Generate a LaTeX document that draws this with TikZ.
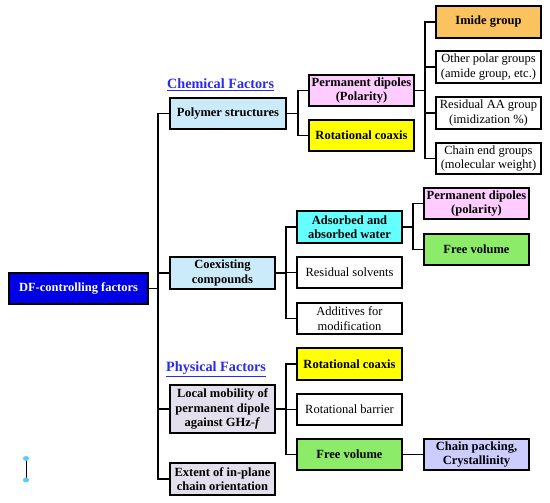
\documentclass[tikz,border=0pt]{standalone}
\usepackage{fontspec}
\setmainfont{Liberation Serif}
\begin{document}
\definecolor{cBlue}{HTML}{0000E6}
\definecolor{cLabel}{HTML}{2A2AEE}
\definecolor{cLightBlue}{HTML}{CCEBFA}
\definecolor{cGrayLav}{HTML}{E4DFEC}
\definecolor{cPink}{HTML}{FFCCFF}
\definecolor{cYellow}{HTML}{FFFF00}
\definecolor{cOrange}{HTML}{FAC35F}
\definecolor{cCyan}{HTML}{66FFFF}
\definecolor{cGreen}{HTML}{8CEB68}
\definecolor{cLav}{HTML}{CCCCFF}
\definecolor{cHandle}{HTML}{55CCFF}
\begin{tikzpicture}[x=1pt,y=-1pt,
  box/.style={draw=black, line width=1.7pt, rectangle, inner sep=0pt, align=center,
    font=\fontsize{12.5}{14.5}\selectfont\bfseries, minimum width=105pt, minimum height=31.5pt},
  plain/.style={box, fill=white, font=\fontsize{12.5}{14.5}\selectfont},
  link/.style={line width=1.7pt, draw=black},
  lab/.style={inner sep=0pt, text=cLabel, font=\fontsize{14.2}{16}\selectfont\bfseries}]
\useasboundingbox (0,0) rectangle (550,503);
% nodes
\node[box, fill=cBlue, text=white, minimum width=139.5pt] (df) at (78.5,288.5) {DF-controlling factors};
\node[box, fill=cLightBlue, minimum width=116.5pt] (poly) at (228,113.5) {Polymer structures};
\node[box, fill=cLightBlue] (coex) at (222.5,273) {Coexisting\\compounds};
\node[box, fill=cGrayLav, minimum height=48.5pt] (local) at (222.5,409) {Local mobility of\\permanent dipole\\against GHz-\textit{f}};
\node[box, fill=cGrayLav, minimum height=32.5pt] (extent) at (222.5,479) {Extent of in-plane\\chain orientation};
\node[box, fill=cPink] (pd1) at (361.5,90.5) {Permanent dipoles\\(Polarity)};
\node[box, fill=cYellow] (rc1) at (361.5,135.5) {Rotational coaxis};
\node[box, fill=cOrange] (imide) at (488.5,22) {Imide group};
\node[plain] (other) at (488.5,67) {Other polar groups\\(amide group, etc.)};
\node[plain] (resaa) at (488.5,113) {Residual AA group\\(imidization \%)};
\node[plain] (chainend) at (488.5,158.5) {Chain end groups\\(molecular weight)};
\node[box, fill=cCyan] (water) at (349.5,227) {Adsorbed and\\absorbed water};
\node[box, fill=cPink] (pd2) at (476.5,203.5) {Permanent dipoles\\(polarity)};
\node[box, fill=cGreen] (fv1) at (476.5,249.5) {Free volume};
\node[plain] (ressolv) at (349.5,272.5) {Residual solvents};
\node[plain] (additives) at (349.5,318.5) {Additives for\\modification};
\node[box, fill=cYellow] (rc2) at (349.5,364) {Rotational coaxis};
\node[plain] (rotbar) at (349.5,409.5) {Rotational barrier};
\node[box, fill=cGreen] (fv2) at (349.5,454.5) {Free volume};
\node[box, fill=cLav] (pack) at (476.5,454.5) {Chain packing,\\Crystallinity};
% labels
\node[lab, anchor=west] (chem) at (167,85) {\underline{Chemical Factors}};
\node[lab, anchor=west] (phys) at (166,369) {\underline{Physical Factors}};
% trunk coordinates
\coordinate (tx) at (158,0);
\coordinate (px) at (298,0);
\coordinate (qx) at (425,0);
\coordinate (cx) at (286,0);
\coordinate (wx) at (413,0);
% connectors
\draw[link] (df.east) -- (tx |- df.east);
\draw[link] (poly.west) -| (tx |- extent.west) -- (extent.west);
\draw[link] (tx |- coex.west) -- (coex.west);
\draw[link] (tx |- local.west) -- (local.west);
\draw[link] (poly.east) -- (px |- poly.east);
\draw[link] (pd1.west) -| (px |- rc1.west) -- (rc1.west);
\draw[link] (pd1.east) -- (qx |- pd1.east);
\draw[link] (imide.west) -| (qx |- chainend.west) -- (chainend.west);
\draw[link] (qx |- other.west) -- (other.west);
\draw[link] (qx |- resaa.west) -- (resaa.west);
\draw[link] (coex.east) -- (cx |- coex.east);
\draw[link] (water.west) -| (cx |- additives.west) -- (additives.west);
\draw[link] (cx |- ressolv.west) -- (ressolv.west);
\draw[link] (water.east) -- (wx |- water.east);
\draw[link] (pd2.west) -| (wx |- fv1.west) -- (fv1.west);
\draw[link] (local.east) -- (cx |- local.east);
\draw[link] (rc2.west) -| (cx |- fv2.west) -- (fv2.west);
\draw[link] (cx |- rotbar.west) -- (rotbar.west);
\draw[link] (fv2.east) -- (pack.west);
% selection handle
\coordinate (h1) at (26,458.5);
\coordinate (h2) at (26,480);
\draw[line width=0.8pt] (h1) -- (h2);
\fill[cHandle] (h1) ellipse (3pt and 2.5pt);
\fill[cHandle] (h2) ellipse (3pt and 2.5pt);
\end{tikzpicture}
\end{document}
